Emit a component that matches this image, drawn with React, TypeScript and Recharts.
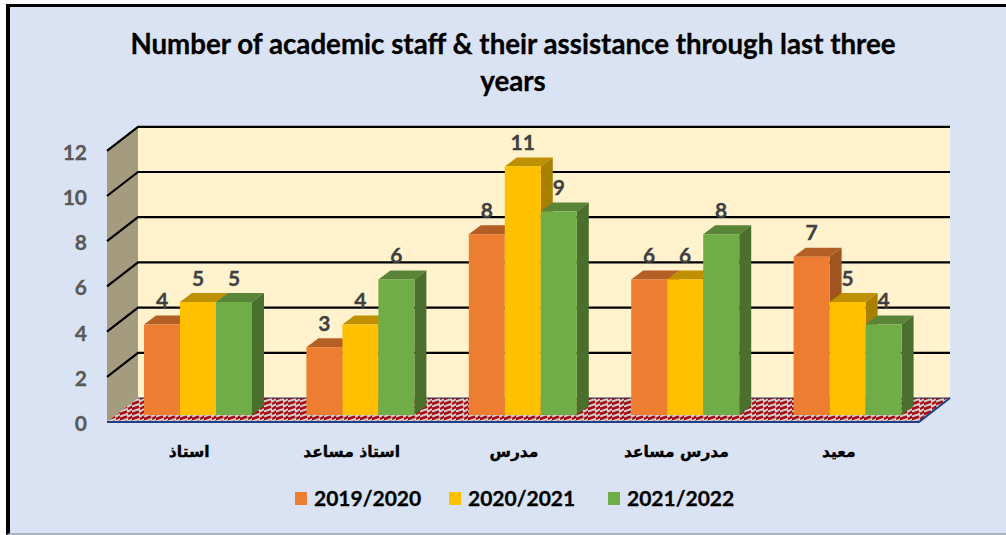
import React from "react";
import { BarChart, Bar, XAxis, YAxis, ReferenceArea, Legend } from "recharts";

const categories = ["استاذ", "استاذ مساعد", "مدرس", "مدرس مساعد", "معيد"];
const series1 = [4, 3, 8, 6, 7];
const series2 = [5, 4, 11, 6, 5];
const series3 = [5, 6, 9, 8, 4];
const seriesNames = ["2019/2020", "2020/2021", "2021/2022"];
const yTicks = [0, 2, 4, 6, 8, 10, 12];
const titleLines = ["Number of academic staff & their assistance through last three", "years"];

const rows = categories.map((name, i) => ({
  name,
  [seriesNames[0]]: series1[i],
  [seriesNames[1]]: series2[i],
  [seriesNames[2]]: series3[i],
}));

const W = 1006;
const H = 535;
const FONT = "Lato, 'Open Sans', sans-serif";
// offset of the bar plane from the front edge of the floor, and of the back wall from the bar plane
const FRONT = { dx: -10, dy: 7 };
const BACK = { dx: 21, dy: -17 };
const BAR_DEPTH = { dx: 12, dy: -9 };

const Frame = (props: any) => {
  const { x, y, width, height } = props;
  const bottom = y + height;
  const fx0 = x + FRONT.dx;
  const fx1 = x + width + FRONT.dx;
  const bx0 = x + BACK.dx;
  const bx1 = x + width + BACK.dx;
  const yAt = (v: number) => bottom - (v / 12) * height;
  return (
    <g>
      <defs>
        <pattern id="floorPat" width="12" height="5" patternUnits="userSpaceOnUse" patternTransform="translate(0 398)">
          <rect width="12" height="5" fill="#A80C14" />
          <path d="M0 3.6 L7 1 L8 3.6 L12 1" fill="none" stroke="#D2CECE" strokeWidth={1.9} />
          <path d="M-4 1 L0 3.6 M12 1 L16 3.6" fill="none" stroke="#D2CECE" strokeWidth={1.9} />
        </pattern>
      </defs>
      <polygon
        points={`${bx0},${yAt(12) + BACK.dy} ${bx1},${yAt(12) + BACK.dy} ${bx1},${bottom + BACK.dy} ${bx0},${bottom + BACK.dy}`}
        fill="#FFF2CC"
      />
      <polygon
        points={`${fx0},${yAt(12) + FRONT.dy} ${bx0},${yAt(12) + BACK.dy} ${bx0},${bottom + BACK.dy} ${fx0},${bottom + FRONT.dy}`}
        fill="#A59C80"
      />
      <polygon
        points={`${fx0},${bottom + FRONT.dy} ${fx1},${bottom + FRONT.dy} ${bx1},${bottom + BACK.dy} ${bx0},${bottom + BACK.dy}`}
        fill="url(#floorPat)"
      />
      {yTicks.filter((t) => t > 0).map((t) => (
        <polyline
          key={t}
          points={`${fx0},${yAt(t) + FRONT.dy} ${bx0},${yAt(t) + BACK.dy} ${bx1},${yAt(t) + BACK.dy}`}
          fill="none"
          stroke="#000"
          strokeWidth={2.2}
        />
      ))}
      <polyline
        points={`${fx0},${bottom + FRONT.dy} ${fx1},${bottom + FRONT.dy} ${bx1},${bottom + BACK.dy}`}
        fill="none"
        stroke="#1F3F86"
        strokeWidth={2}
      />
      <polyline
        points={`${bx0},${bottom + BACK.dy} ${bx1},${bottom + BACK.dy}`}
        fill="none"
        stroke="#1F3864"
        strokeWidth={1}
      />
    </g>
  );
};

const makeBox = (front: string, top: string, side: string) => (props: any) => {
  const { x, y, width, height } = props;
  const { dx, dy } = BAR_DEPTH;
  return (
    <g>
      <polygon points={`${x},${y} ${x + dx},${y + dy} ${x + width + dx},${y + dy} ${x + width},${y}`} fill={top} />
      <polygon points={`${x + width},${y} ${x + width + dx},${y + dy} ${x + width + dx},${y + height + dy} ${x + width},${y + height}`} fill={side} />
      <rect x={x} y={y} width={width} height={height} fill={front} />
    </g>
  );
};

const YTick = (props: any) => {
  const { y, payload } = props;
  return (
    <text x={87} y={y + 16} textAnchor="end" fontFamily={FONT} fontSize={21} fontWeight={700} fill="#595959" stroke="#595959" strokeWidth={0.3}>
      {payload.value}
    </text>
  );
};

const XTick = (props: any) => {
  const { x, payload } = props;
  return (
    <text x={x - 9} y={457} textAnchor="middle" direction="rtl" fontFamily="'DejaVu Sans', sans-serif" fontSize={15.5} fontWeight={700} fill="#000" stroke="#000" strokeWidth={0.35}>
      {payload.value}
    </text>
  );
};

const LegendContent = (props: any) => {
  const items = props.payload || [];
  return (
    <div style={{ display: "flex", alignItems: "center", fontFamily: FONT, fontSize: 21, fontWeight: 700, color: "#000", lineHeight: "24px", whiteSpace: "nowrap", WebkitTextStroke: "0.3px #000" }}>
      {items.map((it: any, i: number) => (
        <div key={it.value} style={{ display: "flex", alignItems: "center", width: i === 0 ? 154 : i === 1 ? 159 : "auto" }}>
          <span style={{ display: "inline-block", width: 12, height: 13, background: it.color, marginRight: 7 }} />
          <span>{it.value}</span>
        </div>
      ))}
    </div>
  );
};

const colors = [
  { front: "#ED7D31", top: "#B45F26", side: "#A0541F" },
  { front: "#FFC000", top: "#BF9000", side: "#A88000" },
  { front: "#70AD47", top: "#5A8539", side: "#4B6F2D" },
];

export default function App() {
  return (
    <div style={{ position: "absolute", left: 0, top: 0, width: W, height: H, background: "#fff", overflow: "hidden" }}>
      <div
        style={{
          position: "absolute",
          left: 6,
          top: 4,
          right: 0,
          bottom: 0,
          boxSizing: "border-box",
          background: "#DAE3F3",
          borderLeft: "4px solid #000",
          borderTop: "3px solid #000",
          borderBottom: "2px solid #AEB4C0",
        }}
      />
      <div style={{ position: "absolute", left: 0, top: 0 }}>
        <BarChart
          width={W}
          height={H}
          data={rows}
          margin={{ top: 143.8, right: 77, bottom: 0, left: 0 }}
          barGap={0}
          barSize={36}
        >
          <XAxis dataKey="name" height={120} axisLine={false} tickLine={false} tick={<XTick />} interval={0} />
          <YAxis width={117} domain={[0, 12]} ticks={yTicks} axisLine={false} tickLine={false} tick={<YTick />} interval={0} />
          <ReferenceArea y1={0} y2={12} shape={<Frame />} ifOverflow="visible" fill="none" stroke="none" />
          {seriesNames.map((name, i) => (
            <Bar
              key={name}
              dataKey={name}
              fill={colors[i].front}
              isAnimationActive={false}
              shape={makeBox(colors[i].front, colors[i].top, colors[i].side)}
              label={{ position: "top", offset: 16.5, fill: "#404040", stroke: "#404040", strokeWidth: 0.3, fontFamily: FONT, fontSize: 21, fontWeight: 700 }}
            />
          ))}
          <Legend
            layout="horizontal"
            verticalAlign="middle"
            align="center"
            content={<LegendContent />}
            wrapperStyle={{ left: 295, top: 486, width: "auto" }}
          />
        </BarChart>
      </div>
      {titleLines.map((line, i) => (
        <div
          key={line}
          style={{
            position: "absolute",
            left: 0,
            width: 1026,
            top: 28 + i * 37,
            textAlign: "center",
            whiteSpace: "nowrap",
            fontFamily: FONT,
            fontSize: 27.7,
            fontWeight: 700,
            lineHeight: "32px",
            color: "#000",
            WebkitTextStroke: "0.3px #000",
          }}
        >
          {line}
        </div>
      ))}
    </div>
  );
}
